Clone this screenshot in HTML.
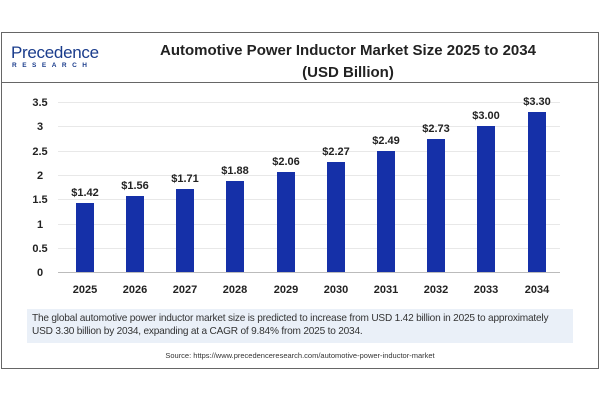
<!DOCTYPE html><html><head><style>
body{margin:0;width:600px;height:400px;background:#fff;position:relative;font-family:"Liberation Sans",sans-serif;overflow:hidden}
.a{position:absolute}
</style></head><body>
<div class="a" style="left:1px;top:32px;width:596px;height:335px;border:1px solid #666"></div>
<div class="a" style="left:1px;top:82px;width:598px;height:1px;background:#666"></div>
<div class="a" style="left:11px;top:43px;font-size:17px;color:#1a3c8c;letter-spacing:-0.3px">Precedence</div>
<div class="a" style="left:12px;top:62px;font-size:6.5px;color:#1a3c8c;font-weight:bold;letter-spacing:5.5px">RESEARCH</div>
<div class="a" style="left:98px;top:40px;width:500px;text-align:center;font-size:15px;font-weight:bold;color:#222;line-height:22px">Automotive Power Inductor Market Size 2025 to 2034<br>(USD Billion)</div>
<svg class="a" style="left:0;top:0" width="600" height="400" font-family="Liberation Sans" font-weight="bold" font-size="11" fill="#222">
<g stroke="#e8e8e8" stroke-width="1">
<line x1="58" x2="560" y1="102.5" y2="102.5"/><line x1="58" x2="560" y1="126.5" y2="126.5"/><line x1="58" x2="560" y1="151.5" y2="151.5"/><line x1="58" x2="560" y1="175.5" y2="175.5"/><line x1="58" x2="560" y1="199.5" y2="199.5"/><line x1="58" x2="560" y1="224.5" y2="224.5"/><line x1="58" x2="560" y1="248.5" y2="248.5"/>
</g>
<line x1="58" x2="560" y1="272.5" y2="272.5" stroke="#bbb"/>
<g text-anchor="middle">
<text x="40" y="106">3.5</text><text x="40" y="130">3</text><text x="40" y="155">2.5</text><text x="40" y="179">2</text><text x="40" y="203">1.5</text><text x="40" y="228">1</text><text x="40" y="252">0.5</text><text x="40" y="276">0</text>
</g>
<g fill="#1530a8">
<rect x="76" y="203" width="18" height="69"/><rect x="126" y="196" width="18" height="76"/><rect x="176" y="189" width="18" height="83"/><rect x="226" y="181" width="18" height="91"/><rect x="277" y="172" width="18" height="100"/><rect x="327" y="162" width="18" height="110"/><rect x="377" y="151" width="18" height="121"/><rect x="427" y="139" width="18" height="133"/><rect x="477" y="126" width="18" height="146"/><rect x="528" y="112" width="18" height="160"/>
</g>
<g text-anchor="middle">
<text x="85" y="196">$1.42</text><text x="135" y="189">$1.56</text><text x="185" y="182">$1.71</text><text x="235" y="174">$1.88</text><text x="286" y="165">$2.06</text><text x="336" y="155">$2.27</text><text x="386" y="144">$2.49</text><text x="436" y="132">$2.73</text><text x="486" y="119">$3.00</text><text x="537" y="105">$3.30</text>
</g>
<g text-anchor="middle">
<text x="85" y="293">2025</text><text x="135" y="293">2026</text><text x="185" y="293">2027</text><text x="235" y="293">2028</text><text x="286" y="293">2029</text><text x="336" y="293">2030</text><text x="386" y="293">2031</text><text x="436" y="293">2032</text><text x="486" y="293">2033</text><text x="537" y="293">2034</text>
</g>
</svg>
<div class="a" style="left:27px;top:309px;width:546px;height:34px;background:#eaf0f8"></div>
<div class="a" style="left:32px;top:313px;width:545px;font-size:10.1px;line-height:12.5px;color:#333;letter-spacing:-0.2px;white-space:nowrap">The global automotive power inductor market size is predicted to increase from USD 1.42 billion in 2025 to approximately<br>USD 3.30 billion by 2034, expanding at a CAGR of 9.84% from 2025 to 2034.</div>
<div class="a" style="left:0;top:351px;width:600px;text-align:center;font-size:7.5px;color:#333">Source: https://www.precedenceresearch.com/automotive-power-inductor-market</div>
</body></html>
